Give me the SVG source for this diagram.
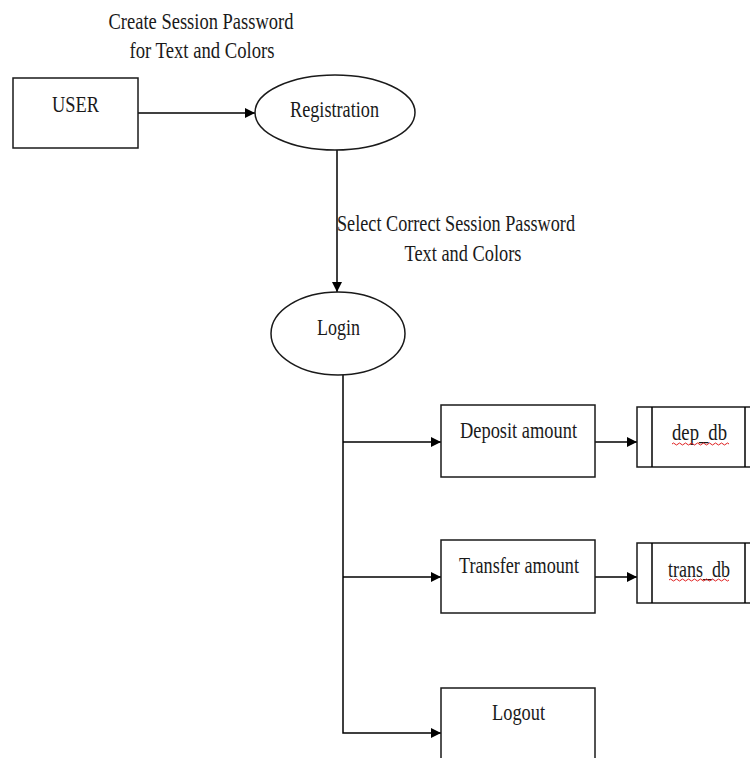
<svg xmlns="http://www.w3.org/2000/svg" width="750" height="758" viewBox="0 0 750 758">
<defs>
<marker id="ah" viewBox="0 0 10 10" refX="10" refY="5" markerWidth="10" markerHeight="11" markerUnits="userSpaceOnUse" orient="auto">
<path d="M0,0 L10,5 L0,10 z" fill="#000"/>
</marker>
</defs>
<style>
.t{font-family:"Liberation Serif","Times New Roman",serif;font-size:24px;fill:#1a1a1a;text-anchor:middle}
.s{fill:#fff;stroke:#1a1a1a;stroke-width:1.5}
.c{fill:none;stroke:#000;stroke-width:1.5}
.w{fill:none;stroke:#e02020;stroke-width:1}
</style>
<rect width="750" height="758" fill="#fff"/>
<g id="connectors">
<path class="c" d="M138,113 H255" marker-end="url(#ah)"/>
<path class="c" d="M337,150 V292" marker-end="url(#ah)"/>
<path class="c" d="M343,375 V733 H441" marker-end="url(#ah)"/>
<path class="c" d="M343,442 H441" marker-end="url(#ah)"/>
<path class="c" d="M343,577 H441" marker-end="url(#ah)"/>
<path class="c" d="M595,442 H637" marker-end="url(#ah)"/>
<path class="c" d="M595,577 H637" marker-end="url(#ah)"/>
<text class="t" x="201" y="29" textLength="185" lengthAdjust="spacingAndGlyphs">Create Session Password</text>
<text class="t" x="202" y="58" textLength="145" lengthAdjust="spacingAndGlyphs">for Text and Colors</text>
<text class="t" x="456" y="231" textLength="238" lengthAdjust="spacingAndGlyphs">Select Correct Session Password</text>
<text class="t" x="463" y="261" textLength="117" lengthAdjust="spacingAndGlyphs">Text and Colors</text>
</g>
<g id="user">
<rect class="s" x="13" y="78" width="125" height="70"/>
<text class="t" x="75.5" y="112" textLength="47" lengthAdjust="spacingAndGlyphs">USER</text>
</g>
<g id="registration">
<ellipse class="s" cx="335" cy="112.5" rx="80" ry="37.5"/>
<text class="t" x="334.5" y="117" textLength="89" lengthAdjust="spacingAndGlyphs">Registration</text>
</g>
<g id="login">
<ellipse class="s" cx="338" cy="333.5" rx="67" ry="41.5"/>
<text class="t" x="338.5" y="335" textLength="43" lengthAdjust="spacingAndGlyphs">Login</text>
</g>
<g id="deposit">
<rect class="s" x="441" y="405" width="154" height="72"/>
<text class="t" x="518.5" y="438" textLength="117" lengthAdjust="spacingAndGlyphs">Deposit amount</text>
</g>
<g id="dep_db">
<rect class="s" x="637" y="407" width="125" height="60"/>
<line class="c" x1="652" y1="407" x2="652" y2="467"/>
<line class="c" x1="745" y1="407" x2="745" y2="467"/>
<text class="t" x="699.5" y="440" textLength="55" lengthAdjust="spacingAndGlyphs">dep_db</text>
<path class="w" d="M672,444 q1.5,-2 3,0 t3,0 t3,0 t3,0 t3,0 t3,0 t3,0 t3,0 t3,0 t3,0 t3,0 t3,0 t3,0 t3,0 t3,0 t3,0 t3,0 t3,0 t3,0"/>
</g>
<g id="transfer">
<rect class="s" x="441" y="540" width="154" height="73"/>
<text class="t" x="519" y="573" textLength="120" lengthAdjust="spacingAndGlyphs">Transfer amount</text>
</g>
<g id="trans_db">
<rect class="s" x="637" y="543" width="125" height="60"/>
<line class="c" x1="652" y1="543" x2="652" y2="603"/>
<line class="c" x1="745" y1="543" x2="745" y2="603"/>
<text class="t" x="699" y="577" textLength="62" lengthAdjust="spacingAndGlyphs">trans_db</text>
<path class="w" d="M669,580 q1.5,-2 3,0 t3,0 t3,0 t3,0 t3,0 t3,0 t3,0 t3,0 t3,0 t3,0 t3,0 t3,0 t3,0 t3,0 t3,0 t3,0 t3,0 t3,0 t3,0 t3,0"/>
</g>
<g id="logout">
<rect class="s" x="441" y="688" width="154" height="90"/>
<text class="t" x="518.5" y="720" textLength="53" lengthAdjust="spacingAndGlyphs">Logout</text>
</g>
</svg>
